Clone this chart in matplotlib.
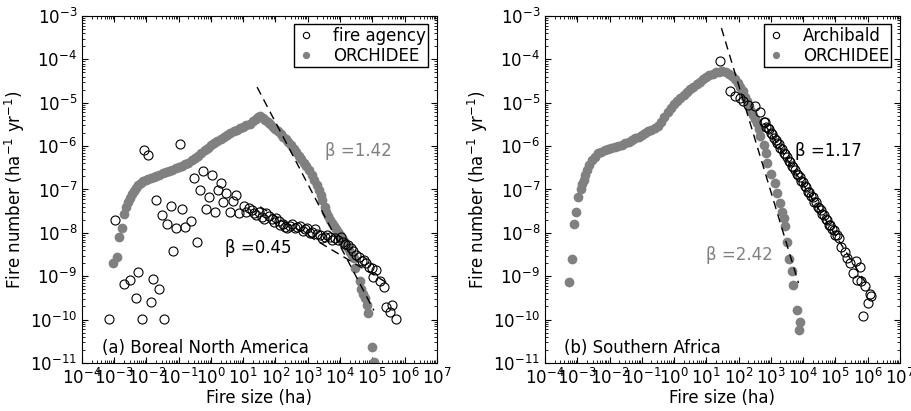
import numpy as np
import matplotlib
matplotlib.use('Agg')
import matplotlib.pyplot as plt

#==data (log10 fire size, log10 fire number)======
# (a) Boreal North America - fire agency
agency_lx = [-3.16,-2.97,-2.69,-2.51,-2.34,-2.26,-2.15,-2.07,-1.96,-1.87,-1.79,-1.71,-1.60,-1.53,-1.45,
             -1.36,-1.24,-1.17,-1.09,-0.97,-0.89,-0.81,-0.62,-0.52,-0.43,-0.34,-0.24,-0.16,-0.06,0.04,
             0.12,0.21,0.31,0.38,0.48,0.59,0.69,0.76,0.87,1.02,1.10,1.18,1.26,1.34,1.41,1.49,1.57,1.65,
             1.72,1.80,1.88,1.95,2.03,2.10,2.14,2.22,2.29,2.37,2.45,2.52,2.60,2.68,2.76,2.84,2.91,2.99,
             3.07,3.14,3.22,3.30,3.38,3.45,3.53,3.61,3.69,3.76,3.84,3.94,4.02,4.09,4.17,4.25,4.33,4.41,
             4.51,4.59,4.67,4.75,4.82,4.90,4.98,5.03,5.11,5.23,5.36,5.44,5.54,5.60,5.73]
agency_ly = [-9.99,-7.70,-9.18,-9.09,-9.51,-8.91,-9.99,-6.09,-6.20,-9.60,-9.07,-7.25,-9.30,-7.60,-9.99,
             -7.79,-7.38,-8.43,-7.90,-5.94,-7.46,-7.86,-7.72,-6.74,-8.20,-7.02,-6.57,-7.45,-7.18,-6.66,
             -7.53,-7.01,-6.86,-7.30,-7.07,-7.52,-7.26,-7.12,-7.55,-7.38,-7.51,-7.42,-7.47,-7.55,-7.59,-7.52,-7.63,-7.68,
             -7.55,-7.62,-7.69,-7.75,-7.66,-7.72,-7.82,-7.80,-7.86,-7.90,-7.84,-7.80,-7.88,-7.86,-7.84,-7.95,-7.92,-7.88,
             -8.00,-7.98,-7.92,-8.02,-8.05,-8.12,-8.10,-8.04,-8.09,-8.17,-8.13,-8.16,-8.10,-8.20,-8.25,-8.28,-8.35,-8.43,
             -8.51,-8.55,-8.66,-8.62,-8.70,-8.78,-8.82,-9.01,-8.86,-9.12,-9.24,-9.70,-9.82,-9.66,-9.99]

# (a) Boreal North America - ORCHIDEE
orch_a_lx = [-3.03,-2.92,-2.85,-2.77,-2.69,-2.62,-2.57,-2.52,-2.46,-2.40,-2.33,-2.26,-2.18,-2.10,-2.02,
             -1.95,-1.86,-1.78,-1.70,-1.60,-1.50,-1.40,-1.30,-1.20,-1.10,-1.00,-0.90,-0.80,-0.70,-0.60,
             -0.50,-0.40,-0.30,-0.20,-0.10,0.00,0.10,0.20,0.30,0.40,0.50,0.60,0.70,0.80,0.90,1.00,1.10,
             1.20,1.30,1.40,1.47,1.53,1.60,1.68,1.76,1.84,1.92,2.00,2.08,2.16,2.24,2.32,2.40,2.48,2.56,
             2.64,2.72,2.80,2.88,2.96,3.04,3.12,3.20,3.28,3.35,3.40,3.45,3.52,3.58,3.64,3.70,3.76,3.82,
             3.88,3.94,4.00,4.06,4.12,4.18,4.24,4.30,4.36,4.42,4.47,4.62,4.66,4.70,4.78,4.83,4.88,4.99,5.06]
orch_a_ly = [-8.70,-8.56,-8.09,-7.88,-7.57,-7.41,-7.29,-7.19,-7.11,-7.03,-6.96,-6.90,-6.85,-6.81,-6.78,
             -6.76,-6.73,-6.71,-6.69,-6.66,-6.63,-6.60,-6.57,-6.54,-6.51,-6.48,-6.45,-6.42,-6.38,-6.33,
             -6.28,-6.22,-6.16,-6.10,-6.04,-5.98,-5.93,-5.88,-5.83,-5.78,-5.74,-5.70,-5.66,-5.62,-5.59,-5.56,-5.52,
             -5.48,-5.43,-5.37,-5.33,-5.31,-5.35,-5.40,-5.45,-5.50,-5.55,-5.60,-5.66,-5.72,-5.78,-5.84,-5.91,-5.98,-6.06,
             -6.14,-6.22,-6.30,-6.38,-6.46,-6.56,-6.66,-6.78,-6.90,-7.02,-7.12,-7.24,-7.40,-7.52,-7.62,-7.70,-7.77,-7.84,
             -7.91,-7.98,-8.05,-8.12,-8.19,-8.27,-8.36,-8.44,-8.51,-8.58,-8.81,-9.12,-9.30,-9.40,-9.50,-9.66,-9.85,-10.63,-10.98]

# (b) Southern Africa - Archibald
arch_lx = [1.44,1.73,1.89,2.04,2.14,2.30,2.51,2.66,2.79,
           2.82,2.86,2.90,2.95,3.00,3.05,3.10,3.15,3.20,3.25,3.30,3.35,3.40,3.45,3.50,3.55,3.60,
           3.65,3.70,3.75,3.80,3.85,3.90,3.95,4.00,4.05,4.10,4.15,4.20,4.25,4.30,4.35,4.40,4.45,
           4.50,4.55,4.60,4.65,4.70,4.75,4.80,4.85,4.90,4.95,5.00,5.05,5.10,
           5.19,5.30,5.37,5.47,5.55,5.63,5.66,5.76,5.81,5.87,5.92,6.02,6.08,6.12]
arch_ly = [-4.04,-4.72,-4.84,-4.90,-4.97,-5.05,-5.07,-5.21,-5.44,
           -5.45,-5.55,-5.58,-5.60,-5.70,-5.72,-5.82,-5.85,-5.93,-5.95,-6.05,-6.07,-6.17,-6.19,-6.25,-6.34,-6.36,
           -6.46,-6.48,-6.54,-6.64,-6.66,-6.71,-6.81,-6.83,-6.93,-6.95,-7.05,-7.06,-7.16,-7.18,-7.28,-7.30,-7.40,
           -7.42,-7.47,-7.57,-7.59,-7.69,-7.71,-7.81,-7.83,-7.92,-7.94,-8.04,-8.06,-8.12,
           -8.32,-8.45,-8.58,-8.70,-8.93,-8.66,-9.09,-8.78,-9.12,-9.92,-9.22,-9.62,-9.40,-9.46]

# (b) Southern Africa - ORCHIDEE
orch_b_lx = [-3.26,-3.17,-3.10,-3.04,-2.97,-2.88,-2.84,-2.80,-2.75,-2.70,-2.63,-2.55,-2.45,-2.35,-2.25,
             -2.15,-2.04,-1.94,-1.84,-1.73,-1.62,-1.52,-1.41,-1.31,-1.20,-1.10,-1.00,-0.90,-0.80,-0.70,
             -0.60,-0.50,-0.40,-0.30,-0.20,-0.10,0.00,0.10,0.20,0.30,0.40,0.50,0.60,0.70,0.80,0.90,1.00,
             1.10,1.20,1.30,1.40,1.50,1.60,1.70,1.80,1.90,1.98,2.06,2.13,2.20,2.27,2.34,2.40,2.46,2.52,
             2.56,2.62,2.68,2.79,2.85,2.89,3.00,3.13,3.18,3.28,3.34,3.41,3.44,3.49,3.58,3.65,3.70,3.81,3.91,3.86]
orch_b_ly = [-9.13,-8.61,-7.80,-7.51,-7.17,-7.00,-6.88,-6.78,-6.66,-6.55,-6.43,-6.32,-6.24,-6.17,-6.13,
             -6.10,-6.07,-6.04,-6.02,-6.00,-5.97,-5.93,-5.90,-5.86,-5.82,-5.78,-5.74,-5.70,-5.65,-5.62,
             -5.58,-5.53,-5.45,-5.33,-5.22,-5.12,-5.03,-4.96,-4.89,-4.82,-4.75,-4.69,-4.63,-4.57,-4.51,-4.46,-4.41,
             -4.37,-4.33,-4.30,-4.28,-4.27,-4.29,-4.33,-4.38,-4.45,-4.54,-4.64,-4.74,-4.86,-4.97,-5.08,-5.18,-5.28,-5.38,
             -5.47,-5.60,-5.77,-5.97,-6.17,-6.38,-6.64,-6.86,-7.07,-7.32,-7.51,-7.66,-7.85,-8.20,-8.61,-8.89,-9.20,-9.78,-10.05,-10.24]

# power law fits: endpoints (log10)
fit_a_obs = ([1.52, 5.54], [-7.40, -9.19])
fit_a_mod = ([1.43, 5.05], [-4.64, -9.79])
fit_b_obs = ([2.80, 6.05], [-5.48, -9.28])
fit_b_mod = ([1.47, 3.86], [-3.28, -9.16])

#==style======
plt.rcParams['font.family'] = 'DejaVu Sans'
plt.rcParams['font.size'] = 12
plt.rcParams['mathtext.fontset'] = 'dejavusans'
plt.rcParams['xtick.direction'] = 'in'
plt.rcParams['ytick.direction'] = 'in'
plt.rcParams['xtick.top'] = True
plt.rcParams['ytick.right'] = True
plt.rcParams['xtick.major.size'] = 4
plt.rcParams['ytick.major.size'] = 4
plt.rcParams['xtick.minor.size'] = 2
plt.rcParams['ytick.minor.size'] = 2

gray = '#808080'

fig = plt.figure(figsize=(9.12, 4.11), dpi=100)
ax1 = fig.add_axes([0.0899, 0.117, 0.389, 0.844])
ax2 = fig.add_axes([0.5976, 0.117, 0.389, 0.844])


def panel(ax, olx, oly, mlx, mly, fobs, fmod, obs_name):
    ax.plot(10**np.array(mlx), 10**np.array(mly), 'o', color=gray, mec=gray, ms=6,
            label='ORCHIDEE', zorder=2)
    ax.plot(10**np.array(olx), 10**np.array(oly), 'o', mfc='none', mec='black', mew=0.8,
            ms=6.5, label=obs_name, zorder=3)
    ax.plot(10**np.array(fobs[0]), 10**np.array(fobs[1]), '--', color='black', lw=1,
            dashes=(6, 4), zorder=4)
    ax.plot(10**np.array(fmod[0]), 10**np.array(fmod[1]), '--', color='black', lw=1,
            dashes=(6, 4), zorder=4)
    ax.set_xscale('log')
    ax.set_yscale('log')
    ax.set_xlim(1e-4, 1e7)
    ax.set_ylim(1e-11, 1e-3)
    ax.set_xticks([10.0**k for k in range(-4, 8)])
    ax.set_yticks([10.0**k for k in range(-11, -2)])
    ax.xaxis.set_minor_locator(matplotlib.ticker.LogLocator(base=10, subs=np.arange(2, 10), numticks=30))
    ax.yaxis.set_minor_locator(matplotlib.ticker.LogLocator(base=10, subs=np.arange(2, 10), numticks=30))
    ax.xaxis.set_minor_formatter(matplotlib.ticker.NullFormatter())
    ax.yaxis.set_minor_formatter(matplotlib.ticker.NullFormatter())
    ax.set_xlabel('Fire size (ha)', labelpad=1)
    ax.set_ylabel('Fire number (ha$^{-1}$ yr$^{-1}$)', labelpad=2)
    h, l = ax.get_legend_handles_labels()
    leg = ax.legend(h[::-1], l[::-1], loc='upper right', fancybox=False, framealpha=1,
                    edgecolor='black', markerscale=0.7, handlelength=1.2, handletextpad=1.0,
                    borderpad=0.15, labelspacing=0.1, borderaxespad=0.5)
    leg.get_frame().set_linewidth(1.0)


panel(ax1, agency_lx, agency_ly, orch_a_lx, orch_a_ly, fit_a_obs, fit_a_mod, 'fire agency')
panel(ax2, arch_lx, arch_ly, orch_b_lx, orch_b_ly, fit_b_obs, fit_b_mod, 'Archibald')

ax1.text(10**3.53, 10**-6.11, 'β =1.42', color=gray, va='center', ha='left')
ax1.text(10**0.43, 10**-8.36, 'β =0.45', color='black', va='center', ha='left')
ax1.text(10**-3.39, 10**-10.66, '(a) Boreal North America', va='center', ha='left')

ax2.text(10**3.76, 10**-6.11, 'β =1.17', color='black', va='center', ha='left')
ax2.text(10**0.99, 10**-8.51, 'β =2.42', color=gray, va='center', ha='left')
ax2.text(10**-3.42, 10**-10.66, '(b) Southern Africa', va='center', ha='left')

plt.savefig('out.png', dpi=100)
